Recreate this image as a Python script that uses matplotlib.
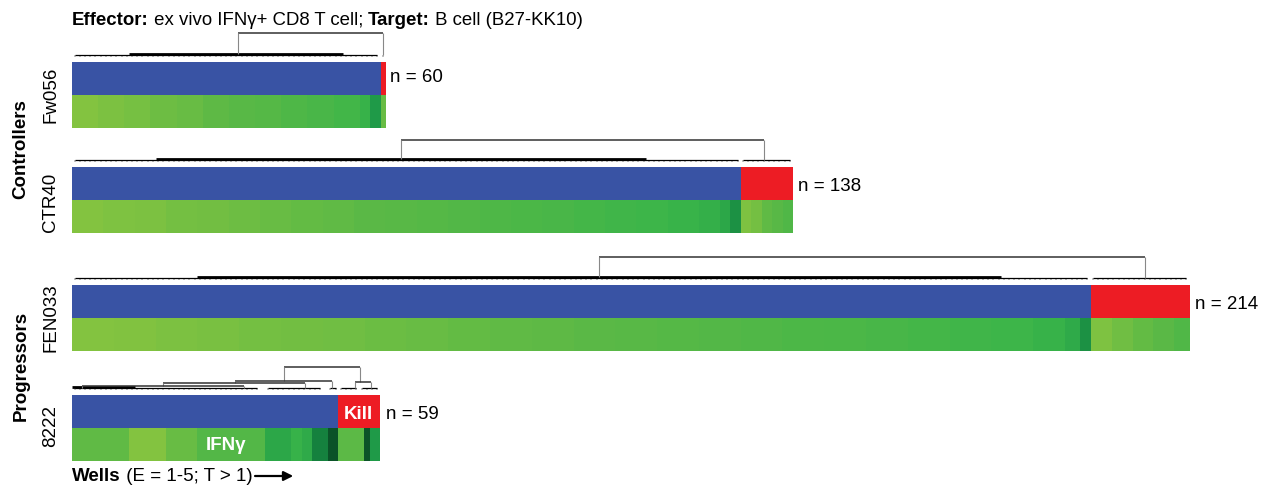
import numpy as np
import matplotlib
matplotlib.use("Agg")
import matplotlib.pyplot as plt
from matplotlib.colors import LinearSegmentedColormap, ListedColormap
from matplotlib.patches import FancyArrowPatch

plt.rcParams["font.family"] = ["Liberation Sans", "DejaVu Sans"]

# ---- data ----
donors = ["Fw056", "CTR40", "FEN033", "8222"]
groups = ["Controllers", "Progressors"]
n_wells = [60, 138, 214, 59]
n_kill = [1, 10, 19, 8]

# IFNg intensity per well as run lengths (0 = low, 1 = high), no-kill wells then kill wells
fw056_counts = [5, 5, 5, 5, 5, 5, 5, 5, 5, 5, 5, 2, 2, 1]
fw056_levels = [0.04, 0.07, 0.09, 0.13, 0.15, 0.19, 0.22, 0.24, 0.28, 0.31, 0.35, 0.42, 0.60,
                0.15]
ctr40_counts = [6, 6, 6, 6, 6, 6, 6, 6, 6, 6, 6, 6, 6, 6, 6, 6, 6, 6, 6, 6, 4, 2, 2,
                2, 2, 2, 2, 2]
ctr40_levels = [0.04, 0.06, 0.07, 0.10, 0.11, 0.13, 0.15, 0.17, 0.18, 0.21, 0.22, 0.24,
                0.26, 0.28, 0.30, 0.31, 0.34, 0.36, 0.38, 0.41, 0.44, 0.50, 0.64,
                0.06, 0.10, 0.18, 0.22, 0.27]
fen033_counts = [8, 8, 8, 8, 8, 8, 8, 8, 8, 8, 8, 8, 8, 8, 8, 8, 8, 8, 8, 8, 8, 8, 8, 6, 3, 2,
                 4, 4, 4, 4, 3]
fen033_levels = [0.04, 0.05, 0.07, 0.08, 0.10, 0.11, 0.12, 0.14, 0.15, 0.17, 0.18, 0.19,
                 0.21, 0.22, 0.24, 0.25, 0.27, 0.29, 0.30, 0.32, 0.34, 0.36, 0.38, 0.42,
                 0.48, 0.64, 0.06, 0.12, 0.17, 0.21, 0.27]
d8222_counts = [11, 7, 6, 13, 5, 2, 2, 3, 2, 5, 1, 2]
d8222_levels = [0.18, 0.04, 0.15, 0.25, 0.50, 0.42, 0.48, 0.72, 0.95, 0.20, 0.95, 0.60]

# dendrograms: leaf comb segments, bold bundles, links (x1, x2, height, left foot, right foot)
fw056_leaves = [(0, 59), (59, 60)]
fw056_bold = [(11, 52)]
fw056_links = [(31.8, 59.5, 95, 74, 73)]
ctr40_leaves = [(0, 128), (128, 138)]
ctr40_bold = [(16, 110)]
ctr40_links = [(63, 132.5, 93, 74, 73)]
fen033_leaves = [(0, 195), (195, 214)]
fen033_bold = [(24, 178)]
fen033_links = [(101, 205.5, 94, 74, 73)]
d8222_leaves = [(0, 36), (37, 48), (49, 51), (51, 55), (55, 59)]
d8222_bold = [(0, 12)]
d8222_links = [(40.6, 55.2, 94, 80, 79), (31.2, 49.8, 80, 78, 73), (17.4, 44.6, 78, 75.5, 73),
               (2, 33, 75.5, 73, 73), (54.2, 57.3, 79, 73, 73)]

ifn_counts = [fw056_counts, ctr40_counts, fen033_counts, d8222_counts]
ifn_levels = [fw056_levels, ctr40_levels, fen033_levels, d8222_levels]
leaves = [fw056_leaves, ctr40_leaves, fen033_leaves, d8222_leaves]
bolds = [fw056_bold, ctr40_bold, fen033_bold, d8222_bold]
links = [fw056_links, ctr40_links, fen033_links, d8222_links]

# ---- layout (pixels) ----
W, H = 1272, 488
PX = 5.22            # px per well
X0 = 72
green_bottom = [128, 233, 351, 461]
label_y = [95, 202, 318, 426]
n_label = [(390, 82), (798, 191), (1195, 309), (386, 419)]

blue = "#3953a4"
red = "#ed1c24"
green_cmap = LinearSegmentedColormap.from_list(
    "ifng", ["#8dc63f", "#5cb946", "#3ab54a", "#1f9a48", "#107138", "#0a4a24"])
kill_cmap = ListedColormap([blue, red])

fig = plt.figure(figsize=(W / 100, H / 100), dpi=100)


def fx(x):
    return x / W


def fy(y):
    return 1 - y / H


for i, name in enumerate(donors):
    n = n_wells[i]
    gb = green_bottom[i]
    ax = fig.add_axes([fx(X0), fy(gb), n * PX / W, 100 / H])

    ifn = np.repeat(ifn_levels[i], ifn_counts[i])
    kill = np.r_[np.zeros(n - n_kill[i]), np.ones(n_kill[i])]
    ax.imshow(ifn[None, :], cmap=green_cmap, vmin=0, vmax=1, extent=(0, n, 0, 33),
              aspect="auto", interpolation="nearest")
    ax.imshow(kill[None, :], cmap=kill_cmap, vmin=0, vmax=1, extent=(0, n, 33, 66),
              aspect="auto", interpolation="nearest")

    # dendrogram
    for s, e in leaves[i]:
        ax.hlines(73, s + 0.5, e - 0.5, color="k", lw=0.9)
        ax.vlines(np.arange(s, e) + 0.5, 71, 73, color="k", lw=0.35)
    for s, e in bolds[i]:
        ax.hlines(74, s, e, color="k", lw=2.0)
    for x1, x2, h, b1, b2 in links[i]:
        ax.hlines(h, x1, x2, color="#333333", lw=1.1)
        ax.vlines(x1, b1, h, color="#888888", lw=0.8)
        ax.vlines(x2, b2, h, color="#888888", lw=0.8)

    ax.set_xlim(0, n)
    ax.set_ylim(0, 100)
    ax.axis("off")

    fig.text(fx(51), fy(label_y[i]), name, rotation=90, ha="center", va="center", fontsize=13.5)
    nx, ny = n_label[i]
    fig.text(fx(nx), fy(ny), f"n = {n}", ha="left", va="baseline", fontsize=13.5)

fig.text(fx(21), fy(149), groups[0], rotation=90, ha="center", va="center",
         fontsize=13.5, fontweight="bold")
fig.text(fx(21), fy(366), groups[1], rotation=90, ha="center", va="center",
         fontsize=13.5, fontweight="bold")

# white labels inside the 8222 panel
fig.text(fx(358), fy(419), "Kill", ha="center", va="baseline", fontsize=13.5,
         fontweight="bold", color="white")
fig.text(fx(226), fy(450), "IFN\u03b3", ha="center", va="baseline", fontsize=13.5,
         fontweight="bold", color="white")

renderer = fig.canvas.get_renderer()


def run_text(x, y, parts, size):
    # draw bold / normal pieces one after another on one baseline
    for txt, weight in parts:
        t = fig.text(fx(x), fy(y), txt, ha="left", va="baseline", fontsize=size, fontweight=weight)
        x = t.get_window_extent(renderer).x1
    return x


run_text(72, 25, [("Effector:", "bold"), (" ex vivo IFN\u03b3+ CD8 T cell; ", "normal"),
                  ("Target:", "bold"), (" B cell (B27-KK10)", "normal")], 13.4)
x_end = run_text(72, 481, [("Wells", "bold"), (" (E = 1-5; T > 1)", "normal")], 13.5)

arrow = FancyArrowPatch((fx(x_end), fy(476)), (fx(296), fy(476)), transform=fig.transFigure,
                        arrowstyle="-|>", mutation_scale=14, lw=1.6, color="k")
fig.add_artist(arrow)

fig.savefig("out.png", dpi=100)
